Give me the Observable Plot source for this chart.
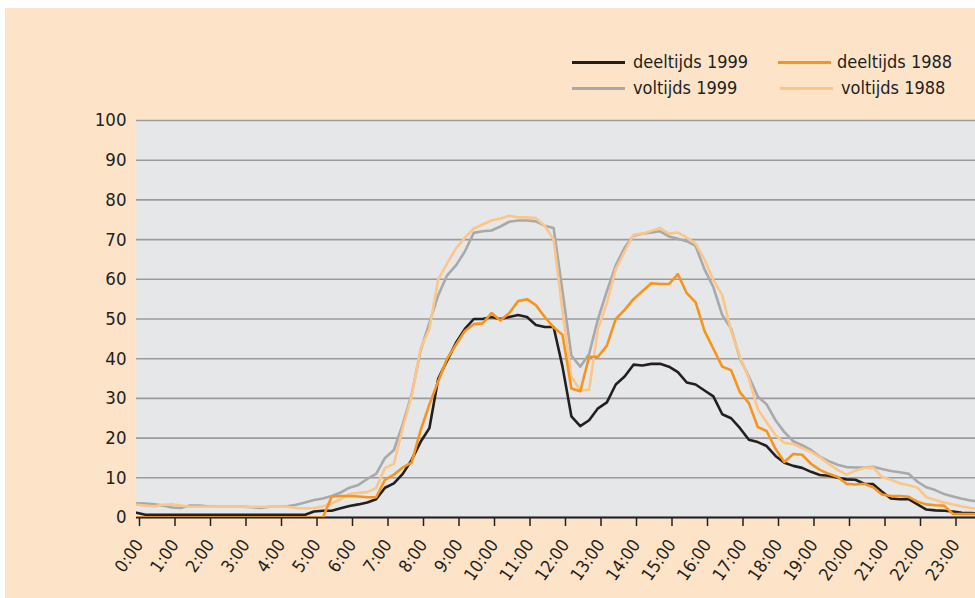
<!DOCTYPE html>
<html>
<head>
<meta charset="utf-8">
<script src="https://cdn.jsdelivr.net/npm/d3@7"></script>
<script src="https://cdn.jsdelivr.net/npm/@observablehq/plot@0.6"></script>
<style>
  body { margin: 0; background: #ffffff; font-family: "Liberation Sans Narrow", "DejaVu Sans Condensed", "Roboto Condensed", sans-serif; }
  #bg { position: absolute; left: 5px; top: 8px; width: 970px; height: 590px; background: #FDE4C9; }
  #chart { position: absolute; left: 0; top: 90px; }
  .lg { position: absolute; font-size: 18px; color: #231F20; line-height: 20px; white-space: nowrap; }
  .sw { position: absolute; height: 3px; width: 53px; }
</style>
</head>
<body>
<div id="bg"></div>
<div id="legend"></div>
<div id="chart"></div>
<script>
// time axis: quarter-hour steps, in hours
const hours = d3.range(0, 24, 0.25);
const hourTicks = d3.range(0, 24);

const deeltijds1999 = [
  1.2,0.7,0.7,0.7,0.7,0.7,0.7,0.7,
  0.7,0.7,0.7,0.7,0.7,0.7,0.7,0.7,
  0.7,0.7,0.7,0.7,1.5,1.7,1.7,2.3,
  2.9,3.3,3.8,4.6,7.5,8.6,11.0,14.5,
  19.0,22.5,35,39.5,44,47.5,50,50,
  50.5,50,50.5,51,50.5,48.5,48,48,
  38,25.5,23,24.5,27.5,29,33.5,35.5,
  38.5,38.3,38.7,38.7,38,36.6,34,33.5,
  32,30.5,26,25,22.5,19.6,19,18,
  15.5,13.8,13,12.5,11.5,10.7,10.5,10,
  9.6,9.5,8.5,8.4,6.5,4.8,4.6,4.6,
  3.3,2.0,1.8,1.7,1.5,1.2,1.1,1.0
];
const deeltijds1988 = [
  0,0,0,0,0,0,0,0,
  0,0,0,0,0,0,0,0,
  0,0,0,0,0,0,5.3,5.4,
  5.4,5.3,5.1,5.1,9.5,10.8,12.6,13.8,
  21.9,28.5,34.3,40,43.5,47,48.7,48.9,
  51.5,49.6,51.5,54.5,55,53.5,50.5,47.9,
  46,32.5,31.8,40.5,40.5,43.3,50,52.3,
  55,57,59,58.8,58.8,61.3,56.5,54.2,
  47,42.5,38,37.1,31.5,28.8,22.8,21.8,
  17.3,14,16,15.8,13.5,12,11,10.2,
  8.5,8.3,8.5,7.6,5.8,5.4,5.4,5.2,
  4.0,3.3,3.1,3.0,0.9,0.9,0.9,0.9
];
const voltijds1999 = [
  3.6,3.5,3.3,3.0,2.5,2.4,3.0,3.0,
  2.8,2.7,2.7,2.7,2.7,2.6,2.4,2.7,
  2.7,2.8,3.2,3.8,4.4,4.8,5.4,6.3,
  7.5,8.2,9.7,11,15,17,23.5,31,
  42,49,56,61,63.5,67,71.7,72.1,
  72.3,73.3,74.5,74.8,74.8,74.6,73.5,72.9,
  57,40.8,38,41.2,50,57,63.5,68,
  71,71.5,71.8,72.1,70.8,70.2,69.6,68.4,
  62.5,58,51,47.5,40,35.5,30.5,28.5,
  24.5,21.5,19.2,18.2,17,15.3,14.2,13.3,
  12.7,12.6,12.6,12.8,12.2,11.7,11.4,11,
  9,7.6,6.9,5.9,5.3,4.7,4.3,4.0
];
const voltijds1988 = [
  3.2,3.0,2.8,3.2,3.3,3.0,2.7,2.7,
  2.7,2.7,2.7,2.7,2.7,2.7,2.7,2.7,
  2.7,2.7,2.4,2.3,2.4,2.8,3.6,4.6,
  5.9,6.2,6.4,7.4,12.5,13.5,22.5,30.5,
  42.5,47.5,60,64,67.8,70.5,72.8,73.8,
  74.8,75.3,76,75.6,75.6,75.4,73.5,70,
  52,35.5,32,32.2,47.5,54,62.5,67,
  71.2,71.5,72.2,72.9,71.5,71.8,70.5,69,
  65,59.8,56,47,40.5,35,27.3,24,
  20.8,18.8,18.5,17.5,16.5,15.2,13.5,12,
  10.8,11.8,12.5,12.6,10.2,9.5,8.6,8.1,
  7.5,5.1,4.4,3.8,3.3,2.8,2.4,2.1
];

const seriesNames = ["deeltijds 1999", "deeltijds 1988", "voltijds 1999", "voltijds 1988"];
const seriesColors = ["#231F20", "#F7941D", "#A7A9AC", "#FDC689"];
const seriesValues = [deeltijds1999, deeltijds1988, voltijds1999, voltijds1988];
const yTicks = d3.range(0, 101, 10);

const rows = seriesNames.map((name, k) => seriesValues[k].map((v, i) => ({hour: hours[i], value: v, name})));

// legend (HTML, above the svg)
const legendPos = [
  {sx: 572, tx: 633, y: 62},
  {sx: 778, tx: 837, y: 62},
  {sx: 572, tx: 633, y: 88},
  {sx: 780, tx: 841, y: 88}
];
const legend = document.getElementById("legend");
seriesNames.forEach((name, k) => {
  const p = legendPos[k];
  const sw = document.createElement("div");
  sw.className = "sw";
  sw.style.left = p.sx + "px";
  sw.style.top = (p.y - 1.5) + "px";
  sw.style.background = seriesColors[k];
  legend.appendChild(sw);
  const t = document.createElement("div");
  t.className = "lg";
  t.style.left = p.tx + "px";
  t.style.top = (p.y - 10) + "px";
  t.textContent = name;
  legend.appendChild(t);
});

const drawOrder = [2, 3, 0, 1];

const chart = Plot.plot({
  width: 975,
  height: 508,
  marginLeft: 136,
  marginRight: 0,
  marginTop: 30,
  marginBottom: 81,
  style: {background: "transparent", fontFamily: "'Liberation Sans Narrow', 'DejaVu Sans Condensed', sans-serif", color: "#231F20", overflow: "visible"},
  x: {domain: [0, 839 / 35.5]},
  y: {domain: [0, 100]},
  marks: [
    Plot.frame({fill: "#E6E7E8", stroke: null}),
    Plot.gridY(yTicks, {stroke: "#9B9B9B", strokeOpacity: 1, strokeWidth: 1.6}),
    Plot.axisY(yTicks, {tickSize: 0, tickPadding: 10, fontSize: 18.5, label: null}),
    Plot.axisX(hourTicks, {tickSize: 9, tickPadding: 15, tickRotate: -55, fontSize: 17.5, label: null, dx: 3,
      tickFormat: h => `${h}:00`, stroke: "#231F20", strokeWidth: 1.5}),
    Plot.ruleY([0], {stroke: "#231F20", strokeWidth: 2}),
    ...drawOrder.map(k => Plot.line(rows[k], {x: "hour", y: "value", stroke: seriesColors[k], strokeWidth: 2.6, clip: true, curve: "linear"}))
  ]
});
document.getElementById("chart").appendChild(chart);
</script>
</body>
</html>
